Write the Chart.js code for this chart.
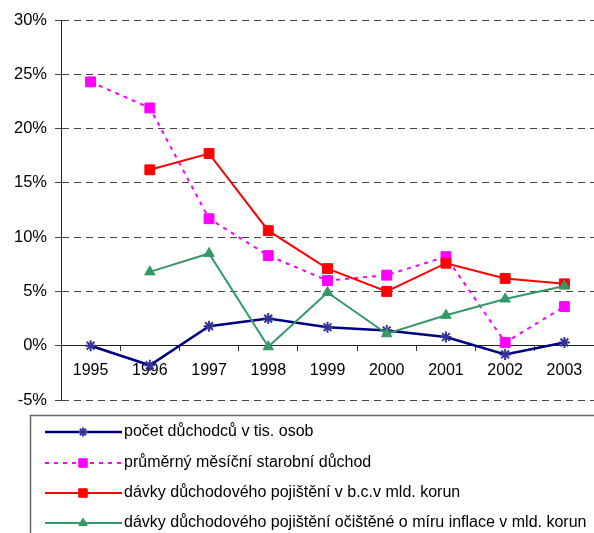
<!DOCTYPE html>
<html>
<head>
<meta charset="utf-8">
<script src="https://cdn.jsdelivr.net/npm/chart.js@4.4.1/dist/chart.umd.min.js"></script>
<style>
  html, body { margin: 0; padding: 0; background: #fff; overflow: hidden; }
  #wrap { position: relative; width: 602px; height: 533px; }
</style>
</head>
<body>
<div id="wrap"><canvas id="graf"></canvas></div>
<script>
// ===============================
// DATA
// ===============================
const roky = ["1995", "1996", "1997", "1998", "1999", "2000", "2001", "2002", "2003"];

const pocetDuchodcu = [0.0, -1.8, 1.8, 2.5, 1.7, 1.4, 0.8, -0.8, 0.3];
const prumernyDuchod = [24.3, 21.9, 11.7, 8.3, 6.0, 6.5, 8.2, 0.3, 3.6];
const davkyBezne = [null, 16.2, 17.7, 10.6, 7.1, 5.0, 7.6, 6.2, 5.7];
const davkyOcistene = [null, 6.8, 8.5, -0.1, 4.9, 1.1, 2.8, 4.3, 5.5];

const popisky = [
    "počet důchodců v tis. osob",
    "průměrný měsíční starobní důchod",
    "dávky důchodového pojištění v b.c.v mld. korun",
    "dávky důchodového pojištění očištěné o míru inflace v mld. korun"
];

const FONT = "'Liberation Sans', Arial, sans-serif";
Chart.defaults.font.family = FONT;
Chart.defaults.color = "#000";

// ===============================
// LEGENDA V RÁMEČKU POD GRAFEM
// ===============================
const legendaBox = {
    id: "legendaBox",
    afterDraw(chart) {
        const ctx = chart.ctx;
        ctx.save();
        ctx.strokeStyle = "#666";
        ctx.lineWidth = 1.5;
        ctx.strokeRect(30.5, 415.5, 700, 200);

        const radky = [432, 463, 493, 523];
        chart.data.datasets.forEach((ds, i) => {
            const y = radky[i];
            ctx.save();
            ctx.strokeStyle = ds.borderColor;
            ctx.lineWidth = ds.borderWidth;
            ctx.setLineDash(ds.borderDash || []);
            ctx.beginPath();
            ctx.moveTo(45, y);
            ctx.lineTo(122, y);
            ctx.stroke();
            ctx.restore();

            ctx.save();
            ctx.fillStyle = ds.pointBackgroundColor;
            ctx.strokeStyle = ds.pointBorderColor;
            ctx.lineWidth = ds.pointBorderWidth;
            Chart.helpers.drawPoint(ctx, {
                pointStyle: ds.pointStyle,
                radius: ds.pointRadius - 1,
                borderWidth: ds.pointBorderWidth,
                rotation: 0
            }, 83, y);
            ctx.restore();

            ctx.fillStyle = "#000";
            ctx.font = "16px " + FONT;
            ctx.textBaseline = "middle";
            ctx.textAlign = "left";
            ctx.fillText(ds.label, 124, y);
        });
        ctx.restore();
    }
};

// ===============================
// GRAF
// ===============================
function serie(label, data, barva, barvaBodu, styl, polomer, extra = {}) {
    return {
        label: label,
        data: data,
        borderColor: barva,
        backgroundColor: barva,
        borderWidth: 2,
        pointStyle: styl,
        pointRadius: polomer,
        pointHoverRadius: polomer,
        pointBackgroundColor: barvaBodu,
        pointBorderColor: barvaBodu,
        pointBorderWidth: 1,
        tension: 0,
        fill: false,
        ...extra
    };
}

const ctx = document.getElementById("graf").getContext("2d");

new Chart(ctx, {
    type: "line",
    data: {
        labels: roky,
        datasets: [
            serie(popisky[0], pocetDuchodcu, "#000080", "#333399", "star", 5.5,
                { pointBorderWidth: 2, borderWidth: 2.5, order: 4 }),
            serie(popisky[1], prumernyDuchod, "#FF00FF", "#FF00FF", "rect", 7,
                { borderDash: [4, 5], order: 3 }),
            serie(popisky[2], davkyBezne, "#FF0000", "#FF0000", "rect", 7, { order: 2 }),
            serie(popisky[3], davkyOcistene, "#339966", "#339966", "triangle", 6, { order: 1 })
        ]
    },
    options: {
        responsive: true,
        maintainAspectRatio: false,
        animation: false,
        layout: { padding: { top: 20, right: 1, bottom: 133, left: 0 } },
        plugins: {
            legend: { display: false },
            tooltip: { enabled: false }
        },
        scales: {
            x: {
                position: { y: 0 },
                offset: true,
                afterFit: (s) => { s.height = 0; },
                grid: {
                    display: true,
                    offset: true,
                    drawOnChartArea: false,
                    drawTicks: true,
                    tickLength: 5,
                    color: "#333"
                },
                border: { display: true, color: "#222", width: 1 },
                ticks: {
                    font: { size: 16 },
                    color: "#000",
                    padding: 10,
                    maxRotation: 0,
                    autoSkip: false
                }
            },
            y: {
                min: -5,
                max: 30,
                afterFit: (s) => { s.width = 61; },
                grid: {
                    color: "#444",
                    tickLength: 6,
                    tickBorderDash: []
                },
                border: { display: true, color: "#222", width: 1, dash: [7, 5] },
                ticks: {
                    stepSize: 5,
                    font: { size: 16.5 },
                    color: "#000",
                    padding: 8,
                    callback: (v) => v + "%"
                }
            }
        }
    },
    plugins: [legendaBox]
});
</script>
</body>
</html>
